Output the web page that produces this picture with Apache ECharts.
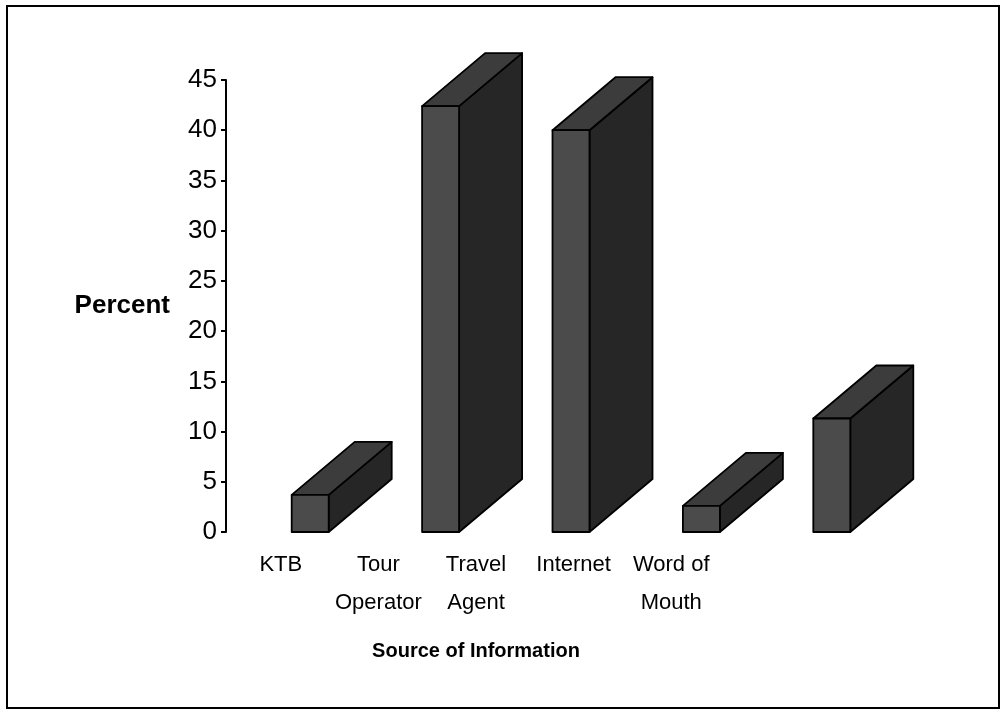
<!DOCTYPE html>
<html>
<head>
<meta charset="utf-8">
<script src="https://cdn.jsdelivr.net/npm/echarts@6/dist/echarts.min.js"></script>
<style>
  html, body { margin: 0; padding: 0; background: #fff; }
  #chart { width: 1001px; height: 713px; }
</style>
</head>
<body>
<div id="chart"></div>
<script>
const categories = ['KTB', 'Tour\nOperator', 'Travel\nAgent', 'Internet', 'Word of\nMouth']
const percents = [3.7, 42.4, 40.0, 2.6, 11.3]

const font = "'Liberation Sans', Arial, sans-serif"
const barWidth = 37
const depthX = 63
const depthY = 53

const chart = echarts.init(document.getElementById('chart'), null, { renderer: 'canvas' })

// 3D box: side + top drawn first, front face on top
const renderBox = (params, api) => {
  const idx = api.value(0)
  const top = api.coord([idx, api.value(1)])
  const base = api.coord([idx, 0])
  const x0 = top[0] - barWidth / 2
  const x1 = top[0] + barWidth / 2
  const y0 = top[1]
  const y1 = base[1]
  const stroke = { stroke: '#000', lineWidth: 1.8, lineJoin: 'round' }
  return {
    type: 'group',
    children: [
      {
        type: 'polygon',
        shape: { points: [[x1, y1], [x1, y0], [x1 + depthX, y0 - depthY], [x1 + depthX, y1 - depthY]] },
        style: Object.assign({ fill: '#262626' }, stroke)
      },
      {
        type: 'polygon',
        shape: { points: [[x0, y0], [x1, y0], [x1 + depthX, y0 - depthY], [x0 + depthX, y0 - depthY]] },
        style: Object.assign({ fill: '#3c3c3c' }, stroke)
      },
      {
        type: 'rect',
        shape: { x: x0, y: y0, width: barWidth, height: y1 - y0 },
        style: Object.assign({ fill: '#4b4b4b' }, stroke)
      }
    ]
  }
}

chart.setOption({
  backgroundColor: '#fff',
  animation: false,
  textStyle: { fontFamily: font },
  graphic: [
    {
      type: 'rect',
      shape: { x: 7, y: 6, width: 992, height: 702 },
      style: { fill: 'none', stroke: '#000', lineWidth: 2 },
      z: 100
    }
  ],
  grid: [
    { left: 245, top: 80, width: 652, height: 452 },
    { left: 232, top: 80, width: 488, height: 452 }
  ],
  xAxis: [
    {
      type: 'category',
      gridIndex: 0,
      data: categories,
      axisLine: { show: false },
      axisTick: { show: false },
      axisLabel: { show: false }
    },
    {
      type: 'category',
      gridIndex: 1,
      data: categories,
      axisLine: { show: false },
      axisTick: { show: false },
      axisLabel: {
        color: '#000',
        fontSize: 22,
        fontFamily: font,
        lineHeight: 38,
        margin: 14,
        interval: 0
      },
      name: 'Source of Information',
      nameLocation: 'middle',
      nameGap: 109,
      nameTextStyle: { color: '#000', fontSize: 20, fontWeight: 'bold', fontFamily: font }
    }
  ],
  yAxis: [
    {
      type: 'value',
      gridIndex: 0,
      min: 0,
      max: 45,
      interval: 5,
      offset: 19,
      axisLine: { show: true, lineStyle: { color: '#000', width: 2 } },
      axisTick: { show: true, length: 5, lineStyle: { color: '#000', width: 2 } },
      axisLabel: { color: '#000', fontSize: 26, fontFamily: font, margin: 9 },
      splitLine: { show: false },
      name: 'Percent',
      nameLocation: 'middle',
      nameRotate: 0,
      nameGap: 56,
      nameTextStyle: { color: '#000', fontSize: 26, fontWeight: 'bold', fontFamily: font, align: 'right' }
    },
    {
      type: 'value',
      gridIndex: 1,
      min: 0,
      max: 45,
      show: false
    }
  ],
  series: [
    {
      type: 'custom',
      xAxisIndex: 0,
      yAxisIndex: 0,
      renderItem: renderBox,
      encode: { x: 0, y: 1 },
      data: percents.map((v, i) => [i, v])
    }
  ]
})
</script>
</body>
</html>
